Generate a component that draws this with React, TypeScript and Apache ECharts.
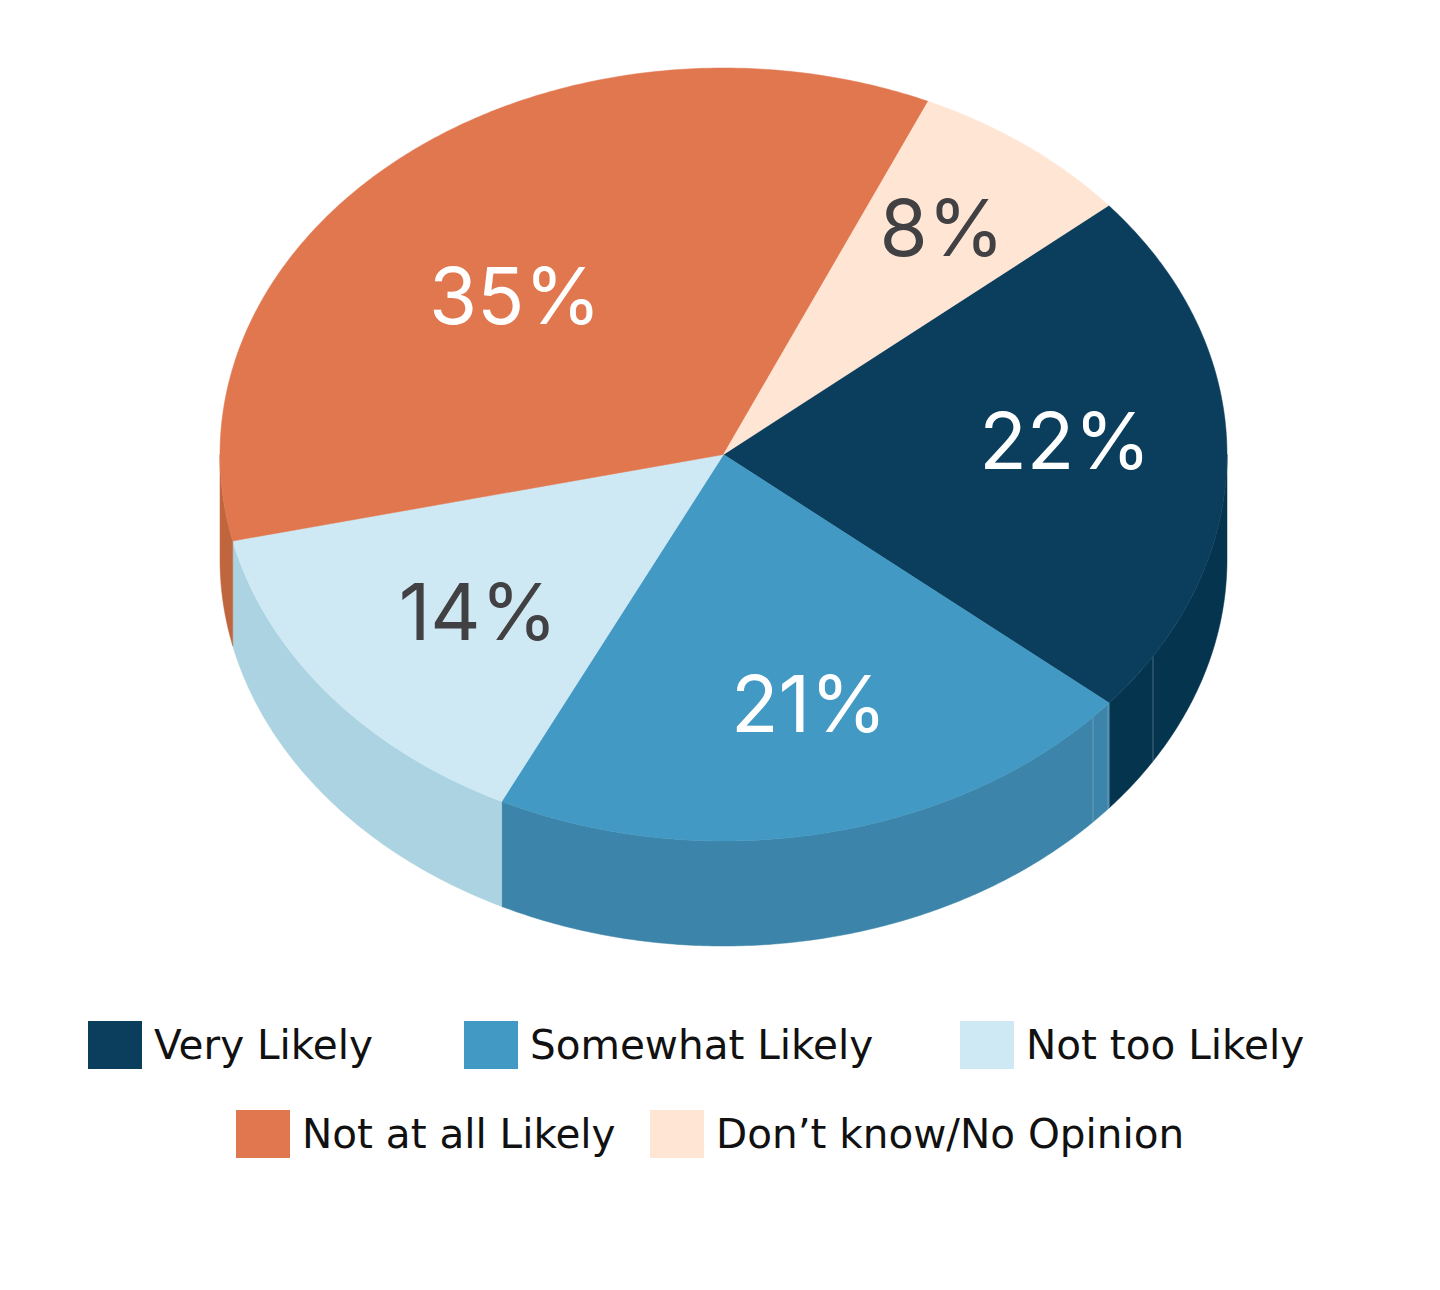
import React, { useEffect, useRef } from "react";
import * as echarts from "echarts";

const categories = ["Very Likely", "Somewhat Likely", "Not too Likely", "Not at all Likely", "Don’t know/No Opinion"];
// Slice shares; printed labels are the rounded figures.
const shares = [22.25, 21.15, 14.15, 35.25, 7.2];
const percentLabels = ["22%", "21%", "14%", "35%", "8%"];
const topColors = ["#0a3e5c", "#4299c3", "#cfe9f4", "#e0774e", "#fee5d4"];
const sideColors = ["#05344f", "#3c84a9", "#acd3e1", "#c0663f", "#fee5d4"];
const labelColors = ["#ffffff", "#ffffff", "#414042", "#ffffff", "#414042"];
const labelAnchors = [[1065, 440], [809, 703], [478, 611], [515, 295], [942, 227]];
const legendAnchors = [[88, 1021], [464, 1021], [960, 1021], [236, 1110], [650, 1110]];
const seamXs: number[][] = [[1153], [1093, 1108], [], [], []];

const CX = 723.5, CY = 454.5, RX = 503.5, RY = 386.5, DEPTH = 105, START = 49.9;
const LABEL_FONT = "Inter";
const LEGEND_FONT = "DejaVu Sans";
const LABEL_SIZE = 78;
const LEGEND_SIZE = 40.5;

const pt = (deg: number, dy = 0): number[] => {
  const r = (deg * Math.PI) / 180;
  return [CX + RX * Math.sin(r), CY - RY * Math.cos(r) + dy];
};
const arc = (a: number, b: number, dy = 0): number[][] => {
  const out: number[][] = [];
  const n = Math.max(2, Math.ceil(Math.abs(b - a) * 2));
  for (let i = 0; i <= n; i++) out.push(pt(a + ((b - a) * i) / n, dy));
  return out;
};
const total = shares.reduce((s, v) => s + v, 0);

function makeSeries(idx: number) {
  const before = shares.slice(0, idx).reduce((s, v) => s + v, 0);
  return {
    type: "custom",
    name: categories[idx],
    coordinateSystem: "none",
    itemStyle: { color: topColors[idx] },
    data: [[shares[idx]]],
    silent: true,
    renderItem: (_p: any, api: any) => {
      const a = START + (before / total) * 360;
      const b = a + (api.value(0) / total) * 360;
      const children: any[] = [];
      const s0 = Math.max(a, 90);
      const s1 = Math.min(b, 270);
      if (s1 > s0) {
        children.push({
          type: "polygon",
          shape: { points: [...arc(s0, s1), ...arc(s1, s0, DEPTH)] },
          style: { fill: sideColors[idx], stroke: sideColors[idx], lineWidth: 0.5 },
        });
      }
      for (const x of seamXs[idx]) {
        const u = (x - CX) / RX;
        const y = CY + RY * Math.sqrt(1 - u * u);
        children.push({
          type: "line",
          shape: { x1: x, y1: y, x2: x, y2: y + DEPTH },
          style: { stroke: "rgba(190,205,215,0.35)", lineWidth: 1 },
        });
      }
      children.push({
        type: "polygon",
        shape: { points: [[CX, CY], ...arc(a, b)] },
        style: { fill: topColors[idx], stroke: topColors[idx], lineWidth: 0.5 },
      });
      children.push({
        type: "text",
        style: {
          text: percentLabels[idx],
          x: labelAnchors[idx][0],
          y: labelAnchors[idx][1],
          fill: labelColors[idx],
          font: `400 ${LABEL_SIZE}px ${LABEL_FONT}`,
          align: "center",
          verticalAlign: "middle",
        },
      });
      return { type: "group", children };
    },
  };
}

export default function App() {
  const ref = useRef<HTMLDivElement>(null);
  useEffect(() => {
    const chart = echarts.init(ref.current!, null, { renderer: "svg" });
    chart.setOption({
      animation: false,
      backgroundColor: "#ffffff",
      legend: categories.map((name, i) => ({
        data: [name],
        left: legendAnchors[i][0],
        top: legendAnchors[i][1],
        padding: 0,
        icon: "rect",
        itemWidth: 54,
        itemHeight: 48,
        selectedMode: false,
        textStyle: { fontFamily: LEGEND_FONT, fontSize: LEGEND_SIZE, color: "#111111", padding: [0, 0, 0, 7] },
      })),
      series: categories.map((_, i) => makeSeries(i)),
    });
    return () => chart.dispose();
  }, []);
  return <div ref={ref} style={{ position: "absolute", left: 0, top: 0, width: 1440, height: 1290 }} />;
}
